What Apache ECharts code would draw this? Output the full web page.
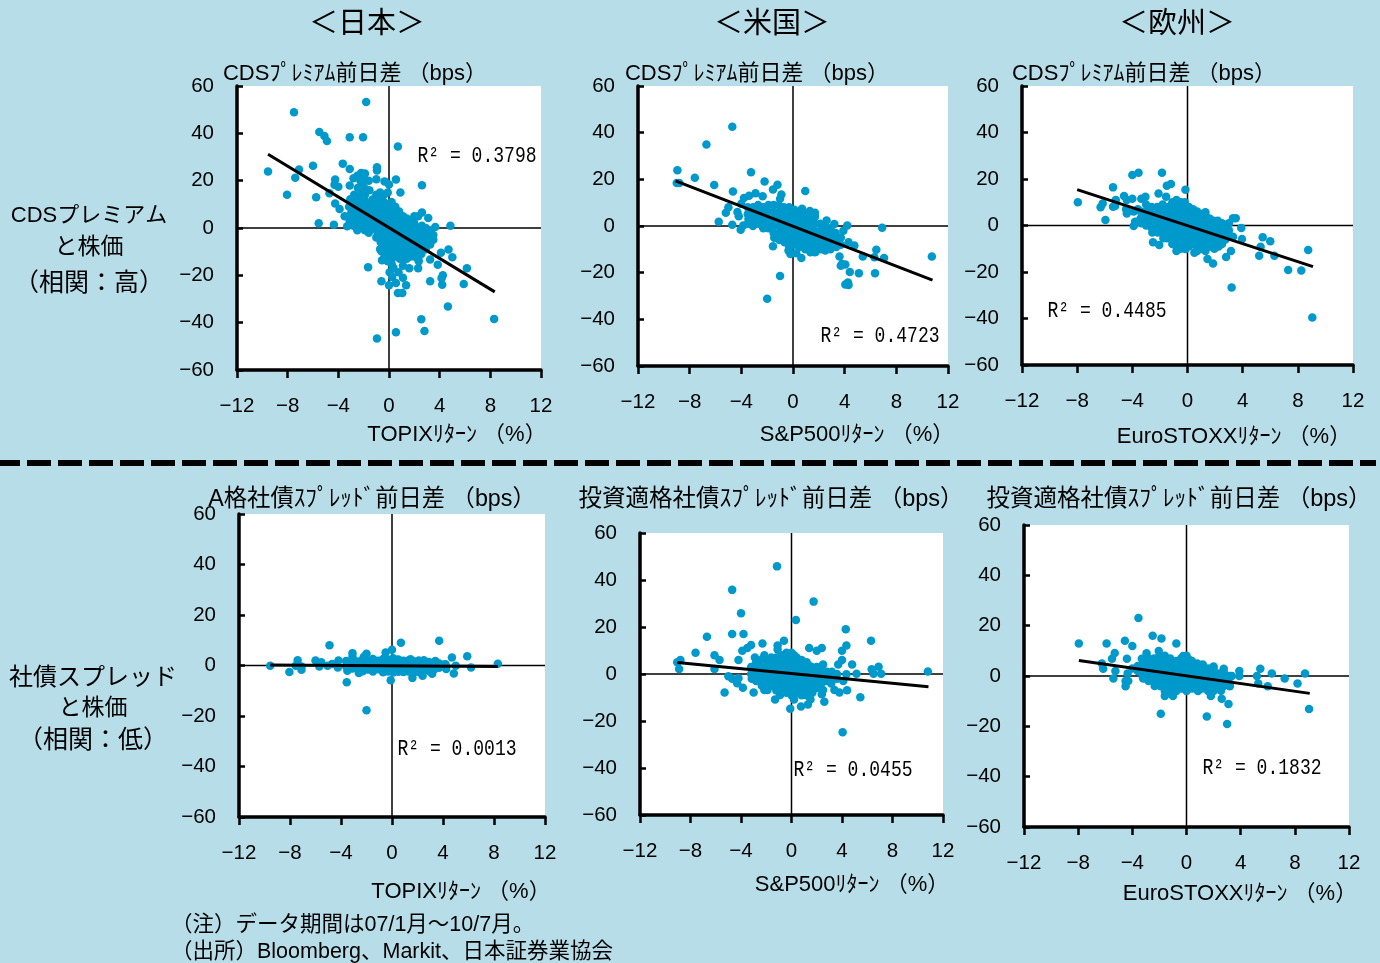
<!DOCTYPE html>
<html><head><meta charset="utf-8">
<style>html,body{margin:0;padding:0;background:#b7dde8}#c{width:1380px;height:963px}</style>
<script src="https://cdn.jsdelivr.net/npm/echarts@6/dist/echarts.min.js"></script>
</head><body><div id="c"></div>
<script>
const xTickLabels=['−12','−8','−4','0','4','8','12'];
const yTickLabels=['−60','−40','−20','0','20','40','60'];
const headers=['＜日本＞','＜米国＞','＜欧州＞'];
const rowLabels=[['CDSプレミアム','と株価','（相関：高）'],['社債スプレッド','と株価','（相関：低）']];
const notes=['（注）データ期間は07/1月～10/7月。','（出所）Bloomberg、Markit、日本証券業協会'];
const chartTitles=['CDSﾌﾟﾚﾐｱﾑ前日差 （bps）','CDSﾌﾟﾚﾐｱﾑ前日差 （bps）','CDSﾌﾟﾚﾐｱﾑ前日差 （bps）','A格社債ｽﾌﾟﾚｯﾄﾞ前日差 （bps）','投資適格社債ｽﾌﾟﾚｯﾄﾞ前日差 （bps）','投資適格社債ｽﾌﾟﾚｯﾄﾞ前日差 （bps）'];
const xTitles=['TOPIXﾘﾀｰﾝ （%）','S&P500ﾘﾀｰﾝ （%）','EuroSTOXXﾘﾀｰﾝ （%）','TOPIXﾘﾀｰﾝ （%）','S&P500ﾘﾀｰﾝ （%）','EuroSTOXXﾘﾀｰﾝ （%）'];
const r2Labels=['R² = 0.3798','R² = 0.4723','R² = 0.4485','R² = 0.0013','R² = 0.0455','R² = 0.1832'];

const jpCds=[[-1.8,53.2],[-7.5,48.9],[-5.5,40.6],[-5.1,38.9],[-4.9,36.8],[-3.1,38.3],[-2.05,38.3],[.7,34.4],[-3.65,27.2],[-6,26.3],[-7.1,24.7],[-9.55,23.9],[-7.4,21.2],[-8.05,14],[-5.75,13],[-5.55,2],[-4.35,1.4],[-4.25,20.5],[-4.3,18.3],[-4,17.4],[-4.7,14.7],[-4.25,10.4],[-3.1,24.9],[-.95,25.7],[-.95,24.3],[-1,20.6],[.55,20.5],[2.6,18.1],[.9,15],[-.35,19.7],[0,18.4],[3.1,4.2],[2.6,6.5],[3.65,.4],[4.85,1],[4.7,-9.1],[5,-12.4],[4.1,-10.5],[3.85,-15.5],[6.15,-17],[4.25,-20],[4.15,-21.2],[4.2,-24],[5.9,-23.7],[3.25,-22.5],[4.65,-33.2],[2.55,-38.6],[8.3,-38.4],[2.8,-43.5],[.55,-44],[-.95,-46.7],[-1.65,-16.6],[-.6,-22.5],[0,-24.2],[.55,-23.2],[.7,-27.5],[1.05,-27.5],[1.35,-24.2],[1.1,-21],[1.6,-17],[2.3,-17],[1.1,-16],[.35,-16.8],[.05,-18.7],[.75,-18.7],[.25,-20.7],[-.55,-13.6],[2.35,-14],[3.25,-13.3],[-.6,-9.8],[-3.9,8],[-3.5,5],[-3.3,.7],
[-3.1,18],[-3.05,12.2],[-3.15,9],[-3,6.1],[-3.1,3],[-2.8,21],[-2.75,14],[-2.85,11],[-2.8,7.2],[-2.7,4],[-2.8,1],[-2.5,22.1],[-2.45,17],[-2.55,13.2],[-2.5,10],[-2.4,7],[-2.5,4.1],[-2.55,1],[-2.5,-1],[-2.2,23.2],[-2.25,20],[-2.15,17],[-2.2,14.1],[-2.2,11],[-2.3,8],[-2.2,5],[-2.1,2],[-2.2,0],[-1.9,23],[-1.85,20.2],[-1.95,17],[-1.9,14],[-1.8,11],[-1.9,8.2],[-1.85,5],[-1.9,2],[-1.9,-1],[-1.6,20],[-1.55,16],[-1.6,10],[-1.65,7],[-1.6,4],[-1.55,1],[-1.6,-2],[-1.3,12],[-1.3,9],[-1.25,6],[-1.3,3],[-1.35,0],[-1,14],[-1,11],[-1.05,8],[-.95,5],[-1,2],[-1,-1],[-1,-4],[-.7,15],[-.7,12],[-.65,9],[-.75,6],[-.7,3],[-.7,0],[-.7,-3],[-.65,-6],[-.7,-9],[-.4,14],[-.4,11],[-.45,8],[-.4,5],[-.35,2],[-.4,-1],[-.4,-4],[-.45,-7],[-.4,-10],[-.35,-12],[-.1,15],[-.1,10],[-.15,7],[-.1,4],[-.05,1],[-.1,-2],[-.1,-5],[-.15,-8],[-.1,-11],[-.1,-14],[.2,11],[.2,8],[.25,5],[.2,2],[.15,-1],[.2,-4],[.2,-7],[.25,-10],[.2,-13],[.2,-15],[.5,9],[.5,6],[.55,3],[.5,0],[.45,-3],[.5,-6],[.5,-9],[.55,-12],[.8,7],[.8,4],[.85,1],[.8,-2],[.75,-5],[.8,-8],[.8,-11],[.85,-13],[1.1,5],[1.1,2],[1.15,-1],[1.1,-4],[1.05,-7],[1.1,-10],[1.1,-13],[1.4,4],[1.4,1],[1.45,-2],[1.4,-5],[1.35,-8],[1.4,-11],[1.4,-13],[1.7,3],[1.7,0],[1.75,-3],[1.7,-6],[1.65,-9],[1.7,-12],[2,5],[2,2],[2.05,-1],[2,-4],[1.95,-7],[2,-10],[2,-12],[2.3,5],[2.3,0],[2.35,-3],[2.3,-6],[2.25,-9],[2.3,-13],[2.6,1],[2.6,-2],[2.65,-5],[2.6,-8],[2.55,-11],[2.9,0],[2.9,-3],[2.95,-6],[2.9,-9],[3.2,-1],[3.2,-4],[3.25,-7],[3.5,-3],[3.5,-5]];
const jpCdsTrend=[[-9.55,31.2],[8.35,-27]];

const usCds=[[-4.7,42.5],[-6.7,34.9],[-8.95,23.9],[-3.25,23],[-7.6,20.7],[-2.2,19.1],[-9,18.4],[-8.8,18.4],[-6.1,17.6],[-1.2,17.7],[-1.55,15.6],[-4.65,14.8],[.95,15],[-.9,13.5],[-1,11.7],[-2.9,14],[-2.35,12.7],[-3.8,12],[-3.4,13],[-5,8],[-5.2,5.7],[-5.75,1.8],[-4.7,.5],[-4.3,6],[-4.2,4.2],[-3.85,.2],[-4.05,-1.6],[3.2,.9],[2.6,2.4],[4.2,.2],[3.9,-2],[6.9,-.8],[6.45,-10.2],[6.3,-13.4],[7.05,-13.7],[5.4,-13.1],[10.75,-13.1],[4.75,-8.4],[4.3,-7],[4.4,-19.7],[5.1,-20.3],[6.35,-20.3],[3.6,-13.1],[3.8,-16.3],[4.05,-16.5],[3.7,-17],[4.05,-25.1],[4.25,-24.2],[4.3,-25.3],[-1,-21.4],[-2,-31.2],[-1.55,-8.7],[-.35,-10.5],[-.2,-12],[.25,-11.7],[.65,-13.7],[1.35,-11.3],[1.7,-11.3],[2.5,-10.5],[.7,7.4],[1.3,6.4],[1.7,5.7],[-4,9.5],
[-3.5,8],[-3.5,5],[-3.45,3],[-3.5,1],[-3.1,8],[-3.1,5],[-3.15,2],[-3.1,0],[-2.7,9],[-2.7,6],[-2.75,3],[-2.7,1],[-2.3,8],[-2.3,5],[-2.25,2],[-2.3,-1],[-1.9,9],[-1.9,6],[-1.95,3],[-1.9,0],[-1.9,-1],[-1.5,9],[-1.5,6],[-1.55,3],[-1.5,0],[-1.5,-3],[-1.45,-5],[-1.1,9],[-1.1,6],[-1.15,3],[-1.1,0],[-1.1,-3],[-1.05,-6],[-.7,8],[-.7,5],[-.75,2],[-.7,-1],[-.7,-4],[-.65,-7],[-.3,8],[-.3,5],[-.35,2],[-.3,-1],[-.3,-4],[-.25,-7],[-.3,-9],[.1,7],[.1,4],[.05,1],[.1,-2],[.1,-5],[.15,-8],[.5,6],[.5,3],[.45,0],[.5,-3],[.5,-6],[.55,-9],[.9,5],[.9,2],[.85,-1],[.9,-4],[.9,-7],[.95,-10],[1.3,5],[1.3,2],[1.25,-1],[1.3,-4],[1.3,-7],[1.35,-10],[1.7,4],[1.7,1],[1.65,-2],[1.7,-5],[1.7,-8],[1.75,-11],[2.1,1],[2.1,-2],[2.05,-5],[2.1,-8],[2.15,-10],[2.5,0],[2.5,-3],[2.45,-6],[2.5,-9],[2.9,-1],[2.9,-4],[2.85,-7],[2.9,-10],[3.3,-3],[3.3,-6],[3.35,-9],[3.7,-5],[3.7,-8]];
const usCdsTrend=[[-9.1,19.3],[10.8,-23.2]];

const euCds=[[-7.95,10],[-6.3,7.8],[-6.15,9.5],[-5.95,2.4],[-5.4,16.4],[-5.2,11],[-5.4,8.1],[-5.25,8.4],[-4.6,12.7],[-4.4,11],[-4.45,7],[-4.4,5.2],[-4,11.5],[-3.8,1.6],[-3.9,-.2],[-4,21.7],[-3.55,22.7],[-1.85,22.7],[-1.5,17.1],[-1.2,17.8],[-.15,15.4],[-2.1,13.8],[-1.55,12.4],[-3.35,11.5],[-3.05,12.4],[1.3,5.7],[3.3,3.1],[3.5,3.1],[3.9,-1.1],[3.95,-5.8],[3.3,-4.8],[5.45,-5],[6,-6.8],[5.3,-9.1],[5.2,-13],[6.3,-13],[8.75,-10.5],[7.3,-19.1],[8.25,-19.4],[9.05,-39.6],[3.2,-26.7],[3.15,-11],[2.8,-13.5],[1.45,-14.4],[1.85,-16.3],[-2.5,-7.2],[-2.05,-8.4],[-1.75,-5.5],[-1.5,-5.5],[-2.4,-2.4],[-.8,-11],[-.15,-10.1],[.5,-11.7],[-3.9,6],[-3.6,7],
[-3.4,6],[-3.4,3],[-3.35,1],[-3,9],[-3,6],[-3.05,3],[-3,0],[-2.6,8],[-2.6,5],[-2.65,2],[-2.6,-1],[-2.55,-3],[-2.2,8],[-2.2,5],[-2.25,2],[-2.2,-1],[-2.15,-3],[-1.8,9],[-1.8,6],[-1.85,3],[-1.8,0],[-1.75,-3],[-1.4,8],[-1.4,5],[-1.45,2],[-1.4,-1],[-1.35,-4],[-1.1,10],[-1.1,7],[-1.15,4],[-1.1,1],[-1.05,-2],[-1.1,-5],[-1.1,-8],[-.8,11],[-.8,8],[-.85,5],[-.8,2],[-.75,-1],[-.8,-4],[-.8,-7],[-.8,-9],[-.5,10],[-.5,7],[-.55,4],[-.5,1],[-.45,-2],[-.5,-5],[-.5,-8],[-.5,-10],[-.2,10],[-.2,7],[-.25,4],[-.2,1],[-.15,-2],[-.2,-5],[-.2,-8],[.1,8],[.1,5],[.05,2],[.1,-1],[.15,-4],[.1,-7],[.1,-9],[.4,7],[.4,4],[.35,1],[.4,-2],[.45,-5],[.4,-8],[.7,6],[.7,3],[.65,0],[.7,-3],[.75,-6],[.7,-9],[.7,-11],[1,5],[1,2],[.95,-1],[1,-4],[1.05,-7],[1,-10],[1.3,4],[1.3,1],[1.25,-2],[1.3,-5],[1.35,-8],[1.3,-11],[1.6,3],[1.6,0],[1.55,-3],[1.6,-6],[1.65,-9],[1.9,2],[1.9,-1],[1.85,-4],[1.9,-7],[1.95,-10],[2.2,2],[2.2,-1],[2.15,-4],[2.2,-7],[2.25,-9],[2.5,1],[2.5,-2],[2.45,-5],[2.5,-8],[2.8,0],[2.8,-3],[2.75,-6],[3,1],[3,-2],[3,-4]];
const euCdsTrend=[[-8,15.4],[9.1,-17.7]];

const jpSpread=[[-9.55,-.1],[-8.05,-2.6],[-7.4,2.1],[-7.55,-.1],[-7.1,-1.7],[-7.1,-.4],[-6,2],[-5.55,1.3],[-5.7,-.4],[-4.9,8],[-5.05,-.1],[-4.2,2],[-4.25,-.8],[-3.55,-6.6],[-3.1,4.9],[-3.1,3.5],[-2,-17.7],[-2,4.7],[-2.2,3.5],[-.5,5.1],[0,6.2],[-.1,-5.8],[.7,9],[3.7,9.8],[4.7,3.2],[5.9,3.7],[5,-.1],[6.2,-.8],[4.85,-3.2],[8.3,.7],[1.6,-4.9],[2.4,-4.1],[3.15,-3.3],[4.25,-1.4],[3.4,1.8],[1.45,2.5],[2.5,2.1],[-2.6,-3],[-3.5,-2.1],[-4.7,.6],
[-3.6,1.8],[-3.6,-.3],[-3.1,1.9],[-3.1,-1.2],[-2.7,1.6],[-2.7,-1.4],[-2.3,2.4],[-2.3,0],[-2.3,-2.3],[-1.9,1.8],[-1.9,-1.6],[-1.5,2.6],[-1.5,.2],[-1.5,-2.4],[-1.1,1.9],[-1.1,-1.5],[-.7,2.6],[-.7,.1],[-.7,-2.7],[-.3,2.3],[-.3,-.2],[-.3,-2.4],[.1,2.9],[.1,.2],[.1,-2.8],[.5,2.4],[.5,-.3],[.5,-2.5],[.9,1.9],[.9,-2.6],[1.3,2],[1.3,-.4],[1.3,-2.4],[1.7,1.7],[1.7,-2.8],[2.1,2],[2.1,-.3],[2.1,-2.6],[2.5,1.2],[2.5,-2],[2.9,1.4],[2.9,-.3],[2.9,-2.2],[3.3,1.2],[3.3,-1.6],[3.7,.8],[3.7,-.9],[4,.3],[4.2,.5],
[-3.4,.9],[-3.4,-1],[-2.9,.6],[-2.9,-.6],[-2.5,.2],[-2.1,1],[-2.1,-1],[-1.7,.4],[-1.3,1],[-1.3,-1],[-.9,.6],[-.9,-.8],[-.5,1.2],[-.5,-1.2],[-.1,1.1],[-.1,-1.2],[.3,1.1],[.3,-1.2],[.7,.7],[.7,-1],[1.1,.8],[1.1,-1.3],[1.5,.6],[1.5,-1.1],[1.9,.5],[1.9,-1.2],[2.3,.7],[2.3,-1],[2.7,.4],[2.7,-1.1],[3.1,.2],[3.1,-.9],[3.5,0],[3.9,-.2]];
const jpSpreadTrend=[[-9.55,.2],[8.3,-.4]];

const usSpread=[[-1.15,45.8],[-4.7,35.8],[1.75,30.8],[-4,25.9],[.35,23],[4.3,19],[-4.7,17],[-3.8,17],[-6.7,15.9],[-.6,14.1],[6.3,14.1],[-2.3,13],[-1.1,12.1],[4.35,12.1],[-3.2,12.3],[-3.5,11.1],[-3.9,9.9],[-1.1,10.4],[1.4,11.1],[2,9.9],[2.4,11.1],[4,9.9],[-7.6,9],[-6.1,8],[-5.7,6],[-8.8,6],[-9.05,5],[-8.9,2.1],[-6.1,2.1],[-4.2,6],[-2.15,8],[-2.9,7],[4,6],[4.8,4],[3.7,4],[2.5,4],[6.35,2],[6.9,3.1],[6.5,.1],[7.1,.1],[5.15,.1],[10.8,1.1],[-5,-1],[-4.7,-2],[-4.2,-1.8],[-4.3,-3.9],[-3.85,-5.9],[-5.3,-7.9],[-3,-7.9],[-2.15,-6.8],[-1.9,-6.8],[-1.3,-10.8],[-.9,-8.9],[.2,-10.8],[-.1,-14.8],[.75,-13.8],[1.3,-13],[1.5,-10.8],[2.6,-11.8],[5.45,-9.9],[4.05,-24.8],[4.4,-6.9],[3.8,-7.9],[3.4,-6.8],[2.4,-8.6],[2.5,-6.8],[4.1,-3],[4.35,-.1],
[-3.2,3],[-3.2,0],[-3.15,-2],[-2.8,5],[-2.8,2],[-2.85,-1],[-2.8,-3],[-2.4,6],[-2.4,3],[-2.45,0],[-2.4,-3],[-2.35,-5],[-2,6],[-2,3],[-2.05,0],[-2,-3],[-1.95,-6],[-1.6,7],[-1.6,4],[-1.65,1],[-1.6,-2],[-1.55,-5],[-1.2,7],[-1.2,4],[-1.25,1],[-1.2,-2],[-1.15,-5],[-1.2,-7],[-.8,8],[-.8,5],[-.85,2],[-.8,-1],[-.75,-4],[-.8,-7],[-.4,9],[-.4,6],[-.45,3],[-.4,0],[-.35,-3],[-.4,-6],[-.4,-8],[0,9],[0,6],[-.05,3],[0,0],[.05,-3],[0,-6],[0,-9],[.4,7],[.4,4],[.35,1],[.4,-2],[.45,-5],[.4,-8],[.8,6],[.8,3],[.75,0],[.8,-3],[.85,-6],[.8,-9],[1.2,5],[1.2,2],[1.15,-1],[1.2,-4],[1.25,-7],[1.2,-9],[1.6,3],[1.6,0],[1.55,-3],[1.6,-6],[1.65,-8],[2,3],[2,0],[1.95,-3],[2,-6],[2.4,2],[2.4,-1],[2.35,-4],[2.8,1],[2.8,-1],[2.75,-3],[3.2,1],[3.2,-2],[3.15,-4],[3.6,0],[3.6,-2],
[-2.6,3.5],[-2.6,.5],[-2.2,1.5],[-2.2,-1.5],[-1.8,5],[-1.8,-1],[-1.8,-4],[-1.4,5.5],[-1.4,2.5],[-1.4,-.5],[-1.4,-3.5],[-1,6],[-1,3],[-1,0],[-1,-3],[-1,-6],[-.6,7],[-.6,4],[-.6,1],[-.6,-2],[-.6,-5],[-.2,7.5],[-.2,4.5],[-.2,1.5],[-.2,-1.5],[-.2,-4.5],[-.2,-7.5],[.2,8],[.2,5],[.2,2],[.2,-1],[.2,-4],[.2,-7],[.6,5.5],[.6,2.5],[.6,-.5],[.6,-3.5],[.6,-6.5],[1,4.5],[1,1.5],[1,-1.5],[1,-4.5],[1,-7.5],[1.4,3.5],[1.4,.5],[1.4,-2.5],[1.4,-5.5],[1.8,2],[1.8,-1.5],[1.8,-4.5],[2.2,1],[2.2,-2],[2.6,.5],[2.6,-2.5],[3,-.5]];
const usSpreadTrend=[[-9.05,4.9],[10.85,-5.4]];

const euSpread=[[-7.95,12.9],[-5.9,12.9],[-6.25,5],[-6.15,2.9],[-5.3,9.1],[-5.5,6.9],[-5.25,2],[-5.4,-1],[-4.55,14],[-4,11.9],[-4.4,6.9],[-4.35,1],[-4.5,-2],[-4.3,-2],[-4.5,-4.1],[-3.55,23],[-2.5,16],[-1.85,14.9],[-.75,12.9],[-2.95,9],[-2.05,9.9],[-3.3,6.9],[-.25,7.9],[1.2,4.6],[2,3.8],[2.75,2.9],[3.9,2],[3.35,0],[3.9,0],[5.45,2.9],[5.2,0],[6.3,1],[5.3,-3],[6,-4.1],[7.25,-1],[8.2,-3],[8.75,1],[9.05,-13.1],[-1.9,-15],[1.5,-16.1],[3,-19.1],[3.1,-11.1],[2.6,-9],[1.8,-7.9],[2.55,-5.9],[3.2,-4.1],[-1.6,-7.9],[-1,-7.9],[-4,3],
[-3.6,4],[-3.6,2],[-3.2,6],[-3.2,3],[-3.25,0],[-3.2,-1],[-2.8,7],[-2.8,4],[-2.85,1],[-2.8,-2],[-2.4,7],[-2.4,4],[-2.45,1],[-2.4,-2],[-2.35,-4],[-2,8],[-2,5],[-2.05,2],[-2,-1],[-1.95,-4],[-1.6,8],[-1.6,5],[-1.65,2],[-1.6,-1],[-1.55,-4],[-1.6,-6],[-1.2,7],[-1.2,4],[-1.25,1],[-1.2,-2],[-1.15,-5],[-1.2,-6],[-.8,6],[-.8,3],[-.85,0],[-.8,-3],[-.75,-6],[-.4,7],[-.4,4],[-.45,1],[-.4,-2],[-.35,-5],[0,8],[0,5],[-.05,2],[0,-1],[.05,-4],[0,-6],[.4,6],[.4,3],[.35,0],[.4,-3],[.45,-5],[.8,5],[.8,2],[.75,-1],[.8,-4],[.85,-6],[1.2,4],[1.2,1],[1.15,-2],[1.2,-5],[1.6,3],[1.6,0],[1.55,-3],[1.6,-6],[2,3],[2,0],[1.95,-3],[2,-6],[2.4,1],[2.4,-2],[2.35,-5],[2.8,1],[2.8,-2],[2.75,-4],[3.2,0],[3.2,-3],
[-3,4.5],[-3,1.5],[-2.6,5.5],[-2.6,2.5],[-2.6,-.5],[-2.2,6],[-2.2,2.5],[-2.2,-.5],[-2.2,-3],[-1.8,6.5],[-1.8,3.5],[-1.8,.5],[-1.8,-2.5],[-1.4,6],[-1.4,3],[-1.4,0],[-1.4,-3],[-1,5],[-1,2],[-1,-1],[-1,-4],[-.6,5],[-.6,2],[-.6,-1],[-.6,-4],[-.2,6],[-.2,3],[-.2,0],[-.2,-3],[.2,6.5],[.2,3.5],[.2,.5],[.2,-2.5],[.2,-5],[.6,4.5],[.6,1.5],[.6,-1.5],[.6,-4.5],[1,3.5],[1,.5],[1,-2.5],[1,-5],[1.4,2.5],[1.4,-.5],[1.4,-3.5],[1.8,1.5],[1.8,-1.5],[1.8,-4.5],[2.2,.5],[2.2,-2.5],[2.6,-1],[2.6,-3.5],[3,-.5]];
const euSpreadTrend=[[-7.95,6.2],[9.1,-6.9]];

const seriesData=[jpCds,usCds,euCds,jpSpread,usSpread,euSpread];
const trendData=[jpCdsTrend,usCdsTrend,euCdsTrend,jpSpreadTrend,usSpreadTrend,euSpreadTrend];
const xZeroLine=[[0,-60],[0,60]];
const yZeroLine=[[-12,0],[12,0]];

// layout only
const FONT='"Liberation Sans","Noto Sans CJK JP",sans-serif';
const MONO='"Liberation Mono","Noto Sans CJK JP",monospace';
const BG='#b7dde8',DOT='#0099cc';
const boxes=[[237,86,304,284],[638,86,310,280],[1022,86,331,279],[239,514,306,303],[640,533,303,282],[1024,525,325,302]];
const titlePos=[[355,74],[757,74],[1144,74],[372,500],[771,500],[1179,500]];
const titleSize=[22,22,22,23.3,23.5,23.5];
const xTitlePos=[[457,435],[857,435],[1234,437],[461,892],[852,885],[1240,894]];
const r2Pos=[[477,156],[880,336],[1107,311],[457,749],[853,770],[1262,768]];
const headerX=[367,772,1177];

function txt(text,x,y,size,align){
  return {type:'text',silent:true,z:50,style:{text,x,y,fill:'#000',font:size+'px '+FONT,textAlign:align||'center',textVerticalAlign:'middle'}};
}
function monoTxt(text,x,y,size,sx){
  return {type:'text',silent:true,z:50,x,y,scaleX:sx,style:{text,x:0,y:0,fill:'#000',font:size+'px '+MONO,textAlign:'center',textVerticalAlign:'middle'}};
}
const graphic=[
  {type:'line',silent:true,shape:{x1:-4,y1:463,x2:1376,y2:463},style:{stroke:'#000',lineWidth:6,lineDash:[24,7]}}
];
headers.forEach((h,i)=>graphic.push(txt(h,headerX[i],25,29)));
[[22,216],[23,248],[25,284]].forEach((p,i)=>graphic.push(txt(rowLabels[0][i],89,p[1],p[0])));
[[24,678],[23,709],[25,741]].forEach((p,i)=>graphic.push(txt(rowLabels[1][i],93,p[1],p[0])));
notes.forEach((t,i)=>graphic.push(txt(t,171,[925,952][i],21.5,'left')));
chartTitles.forEach((t,i)=>graphic.push(txt(t,titlePos[i][0],titlePos[i][1],titleSize[i])));
xTitles.forEach((t,i)=>graphic.push(txt(t,xTitlePos[i][0],xTitlePos[i][1],22)));
r2Labels.forEach((t,i)=>graphic.push(monoTxt(t,r2Pos[i][0],r2Pos[i][1],22,0.82)));

const grid=[],xAxis=[],yAxis=[],series=[];
const labelStyle={color:'#000',fontSize:20.5,fontFamily:FONT};
boxes.forEach((b,i)=>{
  grid.push({left:b[0],top:b[1],width:b[2],height:b[3],show:true,backgroundColor:'#fff',borderWidth:0,containLabel:false});
  xAxis.push({type:'value',gridIndex:i,min:-12,max:12,interval:4,splitLine:{show:false},
    axisLine:{show:true,onZero:false,lineStyle:{color:'#000',width:3.5}},
    axisTick:{show:true,inside:false,length:8,lineStyle:{color:'#000',width:2.5}},
    axisLabel:{...labelStyle,margin:26,formatter:v=>xTickLabels[(v+12)/4]}});
  yAxis.push({type:'value',gridIndex:i,min:-60,max:60,interval:20,splitLine:{show:false},
    axisLine:{show:true,onZero:false,lineStyle:{color:'#000',width:3.5}},
    axisTick:{show:true,inside:true,length:6,lineStyle:{color:'#000',width:2.5}},
    axisLabel:{...labelStyle,margin:23,padding:[2,0,0,0],formatter:v=>yTickLabels[(v+60)/20]}});
  const base={xAxisIndex:i,yAxisIndex:i,silent:true,animation:false};
  series.push({...base,type:'line',data:xZeroLine,showSymbol:false,lineStyle:{color:'#000',width:1.5},z:2});
  series.push({...base,type:'line',data:yZeroLine,showSymbol:false,lineStyle:{color:'#000',width:1.5},z:2});
  series.push({...base,type:'scatter',data:seriesData[i],symbolSize:8.5,itemStyle:{color:DOT,opacity:1},z:3});
  series.push({...base,type:'line',data:trendData[i],showSymbol:false,lineStyle:{color:'#000',width:3},z:4});
});
const chart=echarts.init(document.getElementById('c'),null,{renderer:'canvas'});
chart.setOption({backgroundColor:BG,animation:false,tooltip:{show:false},grid,xAxis,yAxis,series,graphic});
</script></body></html>
